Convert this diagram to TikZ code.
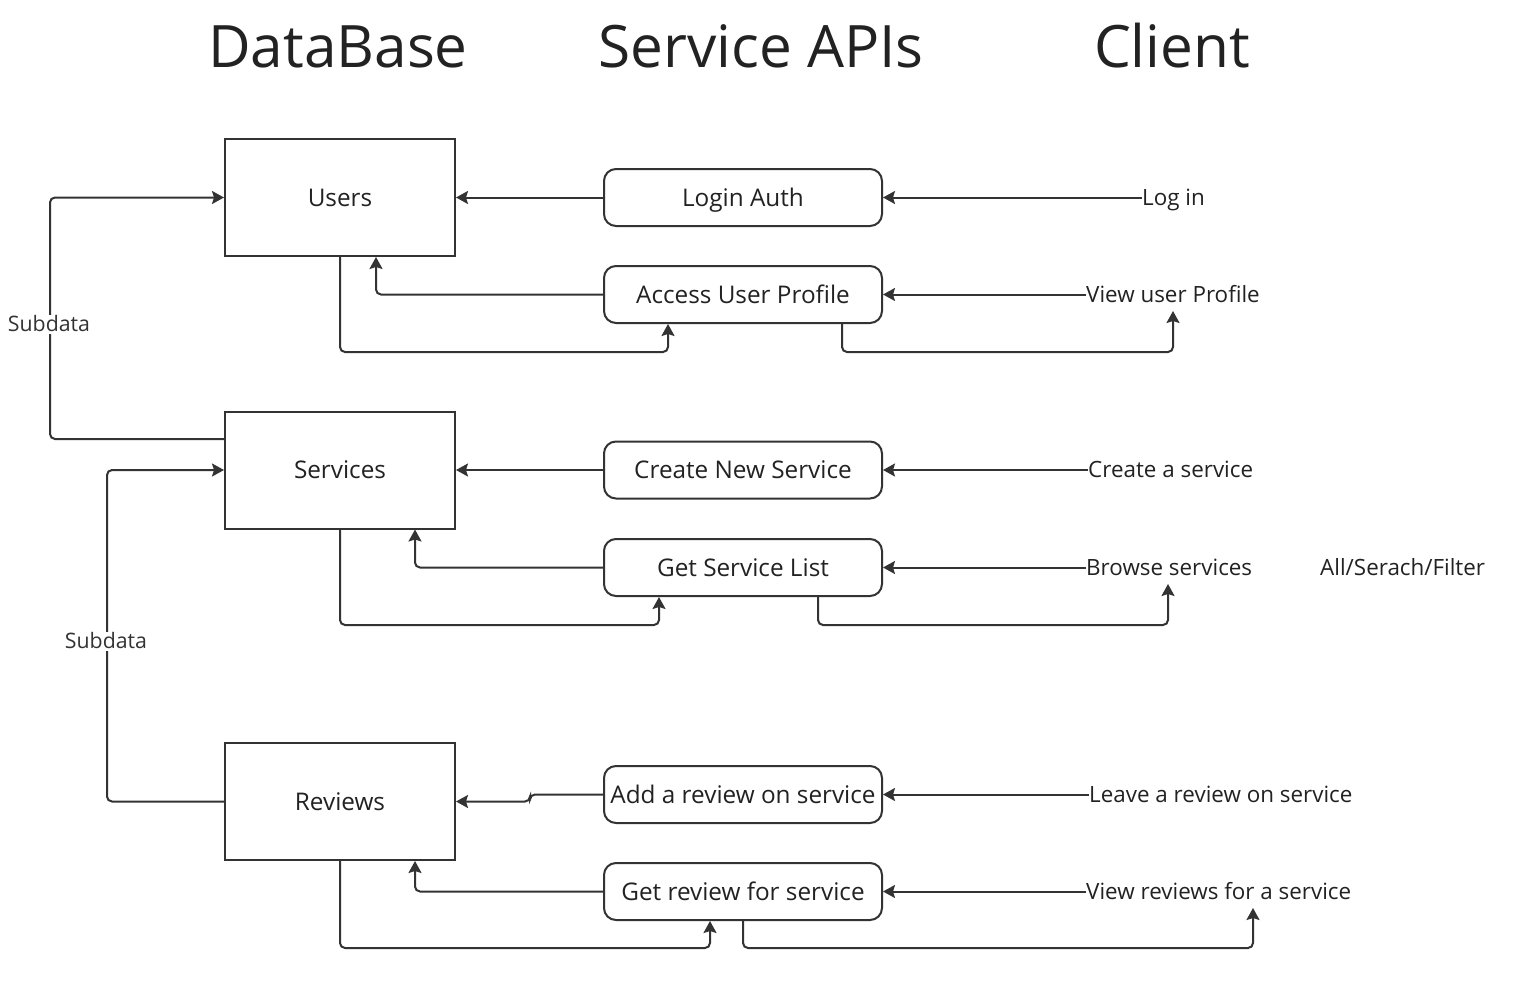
\documentclass[tikz,border=0pt]{standalone}
\usepackage{fontspec}
\setmainfont{Open Sans}
\usetikzlibrary{arrows.meta,calc}
\definecolor{ink}{HTML}{333333}
\definecolor{tink}{HTML}{222222}
\begin{document}
\begin{tikzpicture}[x=1pt,y=-1pt,
  dbbox/.style={draw=ink,line width=2pt,minimum width=230pt,minimum height=117pt,inner sep=0pt,text=tink,text height=17pt,text depth=0pt,font=\fontsize{24.3}{28}\selectfont},
  apibox/.style={draw=ink,line width=2pt,rounded corners=12pt,minimum width=278pt,minimum height=57pt,inner sep=0pt,text=tink,text height=17pt,text depth=0pt,font=\fontsize{24.3}{28}\selectfont},
  clienttxt/.style={anchor=west,inner sep=0pt,text=tink,text height=15.6pt,text depth=0pt,font=\fontsize{22.4}{26}\selectfont},
  title/.style={text=tink,text height=42pt,text depth=0pt,inner sep=0pt,font=\fontsize{58.5}{66}\selectfont},
  conn/.style={draw=ink,line width=2pt,rounded corners=5pt,-{Stealth[length=12pt,width=13pt,inset=2pt]}},
  lbl/.style={fill=white,inner sep=2pt,text=ink,text height=15pt,text depth=0pt,font=\fontsize{21.3}{25}\selectfont}]
\useasboundingbox[fill=white] (0,0) rectangle (1514,990);

% titles
\node[title] (tdb) at (338,46) {DataBase};
\node[title] (tapi) at (761,46) {Service APIs};
\node[title] (tcl) at (1172,46) {Client};

% database boxes
\node[dbbox] (users) at (340,197.5) {Users};
\node[dbbox] (services) at (340,470) {Services};
\node[dbbox] (reviews) at (340,801.5) {Reviews};

% api boxes
\node[apibox] (login) at (743,197.5) {Login Auth};
\node[apibox] (access) at (743,294.5) {Access User Profile};
\node[apibox] (create) at (743,470) {Create New Service};
\node[apibox] (getlist) at (743,567.5) {Get Service List};
\node[apibox] (addrev) at (743,794.5) {Add a review on service};
\node[apibox] (getrev) at (743,891.5) {Get review for service};

% client texts
\node[clienttxt] (clogin) at (1142,197.5) {Log in};
\node[clienttxt] (cview) at (1086,294.5) {View user Profile};
\node[clienttxt] (ccreate) at (1088,470) {Create a service};
\node[clienttxt] (cbrowse) at (1086,567.5) {Browse services};
\node[clienttxt] (cfilter) at (1320,567.5) {All/Serach/Filter};
\node[clienttxt] (cleave) at (1089,794.5) {Leave a review on service};
\node[clienttxt] (cviewrev) at (1086,891.5) {View reviews for a service};

\coordinate (viewtip) at (1173,311);
\coordinate (browsetip) at (1168,584);
\coordinate (viewrevtip) at (1253,908);

% client -> api
\draw[conn] (clogin.west) -- (login.east);
\draw[conn] (cview.west) -- (access.east);
\draw[conn] (ccreate.west) -- (create.east);
\draw[conn] (cbrowse.west) -- (getlist.east);
\draw[conn] (cleave.west) -- (addrev.east);
\draw[conn] (cviewrev.west) -- (getrev.east);

% users block
\draw[conn] (login.west) -- (users.east);
\draw[conn] (access.west) -| ([xshift=36pt]users.south);
\draw[conn] (users.south) |- (352,352) -| ([xshift=-75pt]access.south);
\draw[conn] ([xshift=99pt]access.south) |- (1000,352) -| (viewtip);

% services block
\draw[conn] (create.west) -- (services.east);
\draw[conn] (getlist.west) -| ([xshift=75pt]services.south);
\draw[conn] (services.south) |- (500,625) -| ([xshift=-84pt]getlist.south);
\draw[conn] ([xshift=75pt]getlist.south) |- (1000,625) -| (browsetip);

% reviews block
\draw[conn] (addrev.west) -| (530,801.5) -- (reviews.east);
\draw[conn] (getrev.west) -| ([xshift=75pt]reviews.south);
\draw[conn] (reviews.south) |- (500,948) -| ([xshift=-33pt]getrev.south);
\draw[conn] (getrev.south) |- (1000,948) -| (viewrevtip);

% subdata loops
\draw[conn] ([yshift=31pt]services.west) -| (50,300) |- (users.west);
\node[lbl] (sub1) at (49,324) {Subdata};
\draw[conn] (reviews.west) -| (107,600) |- (services.west);
\node[lbl] (sub2) at (106,641) {Subdata};
\end{tikzpicture}
\end{document}
